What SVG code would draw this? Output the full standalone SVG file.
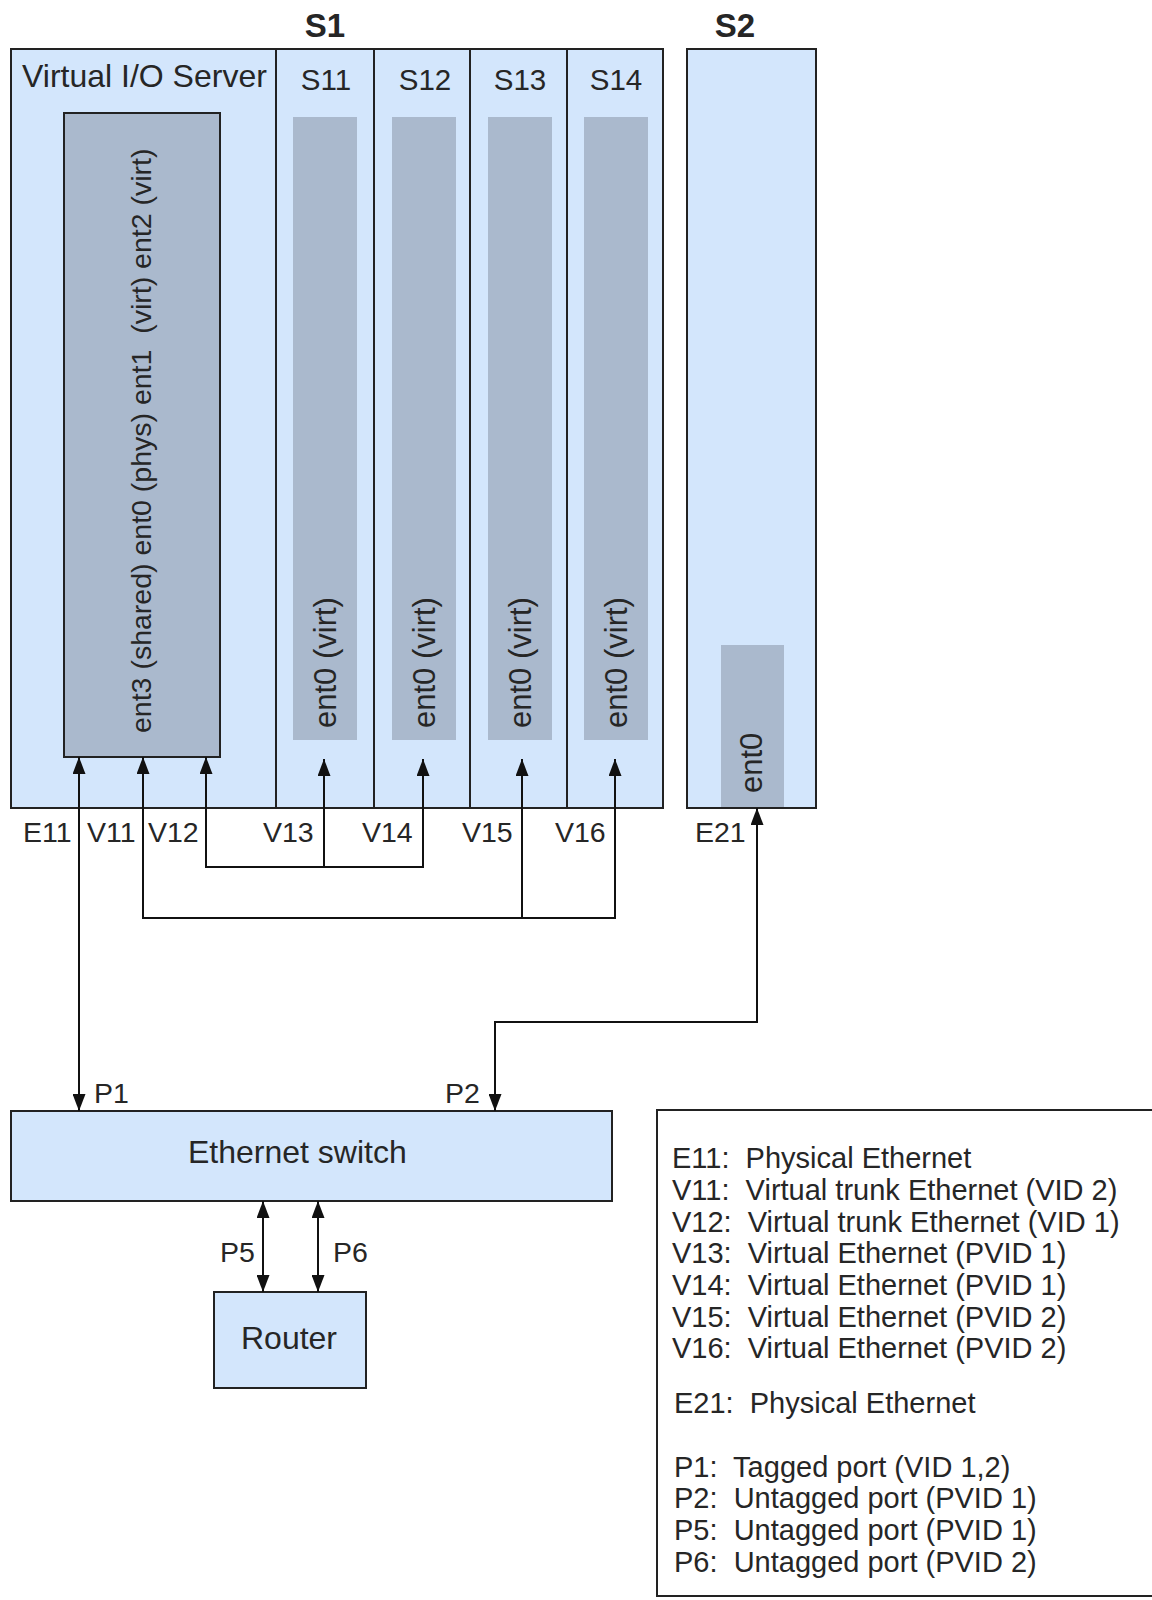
<svg xmlns="http://www.w3.org/2000/svg" width="1152" height="1600" viewBox="0 0 1152 1600">
<style>
text{font-family:"Liberation Sans",Arial,Helvetica,sans-serif;fill:#262626}
.hdr{font-size:33px;font-weight:bold;text-anchor:middle}
.lbl{font-size:32px}
.sl{font-size:29.5px;text-anchor:middle}
.ent{font-size:31px}
.vios{font-size:28.5px}
.port{font-size:28.5px}
.leg{font-size:29px}
.box{fill:#d3e6fc;stroke:#222;stroke-width:2}
.inner{fill:#aab9cd;stroke:#222;stroke-width:2}
.bar{fill:#aab9cd}
.div{stroke:#222;stroke-width:2;fill:none}
.conn path{fill:none;stroke:#111;stroke-width:2;marker-end:url(#ah)}
.conn path.both{marker-start:url(#ah)}
</style>
<defs>
<marker id="ah" markerUnits="userSpaceOnUse" markerWidth="17" markerHeight="13" refX="17" refY="6.5" orient="auto-start-reverse" viewBox="0 0 17 13">
<path d="M0,0 L17,6.5 L0,13 z" fill="#111"/>
</marker>
</defs>
<rect width="1152" height="1600" fill="#fff"/>

<g id="S1">
<text class="hdr" x="325" y="37">S1</text>
<rect class="box" x="11" y="49" width="652" height="759"/>
<line class="div" x1="276" y1="49" x2="276" y2="808"/>
<line class="div" x1="374" y1="49" x2="374" y2="808"/>
<line class="div" x1="470" y1="49" x2="470" y2="808"/>
<line class="div" x1="567" y1="49" x2="567" y2="808"/>
</g>

<g id="VIOS">
<text class="lbl" x="22" y="87">Virtual I/O Server</text>
<rect class="inner" x="64" y="113" width="156" height="644"/>
<text class="vios" transform="translate(151,733) rotate(-90)" xml:space="preserve">ent3 (shared) ent0 (phys) ent1  (virt) ent2 (virt)</text>
</g>

<g id="S11">
<text class="sl" x="326" y="90">S11</text>
<rect class="bar" x="293" y="117" width="64" height="623"/>
<text class="ent" transform="translate(336,728) rotate(-90)">ent0 (virt)</text>
</g>
<g id="S12">
<text class="sl" x="425" y="90">S12</text>
<rect class="bar" x="392" y="117" width="64" height="623"/>
<text class="ent" transform="translate(435,728) rotate(-90)">ent0 (virt)</text>
</g>
<g id="S13">
<text class="sl" x="520" y="90">S13</text>
<rect class="bar" x="488" y="117" width="64" height="623"/>
<text class="ent" transform="translate(531,728) rotate(-90)">ent0 (virt)</text>
</g>
<g id="S14">
<text class="sl" x="616" y="90">S14</text>
<rect class="bar" x="584" y="117" width="64" height="623"/>
<text class="ent" transform="translate(627,728) rotate(-90)">ent0 (virt)</text>
</g>

<g id="S2">
<text class="hdr" x="735" y="37">S2</text>
<rect class="box" x="687" y="49" width="129" height="759"/>
<rect class="bar" x="721" y="645" width="63" height="162"/>
<text class="ent" transform="translate(762,793) rotate(-90)">ent0</text>
</g>

<g id="switch">
<rect class="box" x="11" y="1111" width="601" height="90"/>
<text class="lbl" x="188" y="1163">Ethernet switch</text>
</g>

<g id="router">
<rect class="box" x="214" y="1292" width="152" height="96"/>
<text class="lbl" x="289" y="1349" text-anchor="middle">Router</text>
</g>

<g id="ports">
<text class="port" x="23" y="842">E11</text>
<text class="port" x="87" y="842">V11</text>
<text class="port" x="148" y="842">V12</text>
<text class="port" x="263" y="842">V13</text>
<text class="port" x="362" y="842">V14</text>
<text class="port" x="462" y="842">V15</text>
<text class="port" x="555" y="842">V16</text>
<text class="port" x="695" y="842">E21</text>
<text class="port" x="94" y="1103">P1</text>
<text class="port" x="445" y="1103">P2</text>
<text class="port" x="220" y="1262">P5</text>
<text class="port" x="333" y="1262">P6</text>
</g>

<g id="connectors" class="conn">
<path class="both" d="M79,757 V1111"/>
<path class="both" d="M206,757 V867 H423 V759"/>
<path d="M324,867 V759"/>
<path class="both" d="M143,757 V918 H615 V759"/>
<path d="M522,918 V759"/>
<path class="both" d="M757,808 V1022 H495 V1111"/>
<path class="both" d="M263,1201 V1292"/>
<path class="both" d="M318,1201 V1292"/>
</g>

<g id="legend">
<rect x="657" y="1110" width="510" height="486" fill="#fff" stroke="#222" stroke-width="2"/>
<text class="leg" x="672" y="1168" xml:space="preserve">E11:  Physical Ethernet</text>
<text class="leg" x="672" y="1200" xml:space="preserve">V11:  Virtual trunk Ethernet (VID 2)</text>
<text class="leg" x="672" y="1232" xml:space="preserve">V12:  Virtual trunk Ethernet (VID 1)</text>
<text class="leg" x="672" y="1263" xml:space="preserve">V13:  Virtual Ethernet (PVID 1)</text>
<text class="leg" x="672" y="1295" xml:space="preserve">V14:  Virtual Ethernet (PVID 1)</text>
<text class="leg" x="672" y="1327" xml:space="preserve">V15:  Virtual Ethernet (PVID 2)</text>
<text class="leg" x="672" y="1358" xml:space="preserve">V16:  Virtual Ethernet (PVID 2)</text>
<text class="leg" x="674" y="1413" xml:space="preserve">E21:  Physical Ethernet</text>
<text class="leg" x="674" y="1477" xml:space="preserve">P1:  Tagged port (VID 1,2)</text>
<text class="leg" x="674" y="1508" xml:space="preserve">P2:  Untagged port (PVID 1)</text>
<text class="leg" x="674" y="1540" xml:space="preserve">P5:  Untagged port (PVID 1)</text>
<text class="leg" x="674" y="1572" xml:space="preserve">P6:  Untagged port (PVID 2)</text>
</g>
</svg>
